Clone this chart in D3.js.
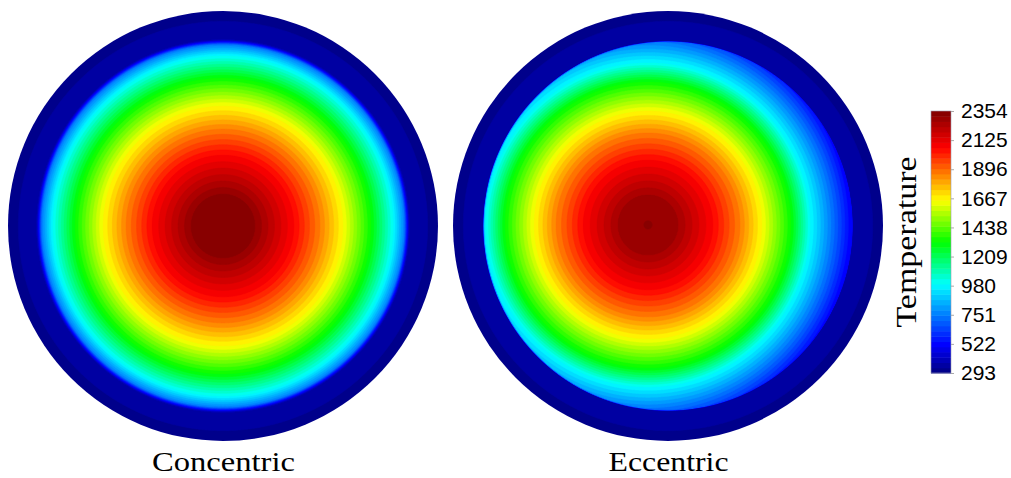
<!DOCTYPE html>
<html>
<head>
<meta charset="utf-8">
<script src="https://cdn.jsdelivr.net/npm/d3@7"></script>
<style>
  body { margin: 0; background: #fff; }
  svg { display: block; }
</style>
</head>
<body>
<svg id="chart" width="1011" height="478"></svg>
<script>
// colour bar ticks (K)
var tempTicks = [293, 522, 751, 980, 1209, 1438, 1667, 1896, 2125, 2354];
var tMin = 293, tMax = 2354, nLevels = 50;

// colour map (fraction of range -> colour)
var cmapStops  = [0, 0.11, 0.34, 0.5, 0.66, 0.86, 1];
var cmapColors = ["#00007f", "#0000ff", "#00ffff", "#00ff00", "#ffff00", "#ff0000", "#7f0000"];

// concentric case: radial profile, r / R_outer -> temperature
var concR = [0, 0.149, 0.330, 0.451, 0.558, 0.688, 0.791, 0.842, 0.856, 0.865, 0.953, 1.0, 1.07];
var concT = [2354, 2313, 2065, 1859, 1653, 1324, 994, 757, 520, 372, 334, 300, 295];

// eccentric case: distance from hot spot / R_outer -> temperature
var eccD = [0, 0.019, 0.140, 0.302, 0.428, 0.530, 0.665, 0.753, 0.847, 0.940, 1.0, 1.07];
var eccT = [2318, 2313, 2272, 2065, 1859, 1653, 1324, 994, 757, 520, 400, 360];
var eccOffset = [-0.093, -0.005];   // hot spot position / R_outer

// eccentric case: thin gap at the cladding wall, r / R_outer -> temperature cap
var gapR = [0.835, 0.86];
var gapT = [2400, 380];

// cladding ring (eccentric case), r / R_outer -> temperature
var cladR = [0.86, 0.953, 1.0, 1.07];
var cladT = [372, 334, 300, 295];

var panelTitles = ["Concentric", "Eccentric"];

var svg = d3.select("#chart");

var frac = d3.scaleLinear().domain([tMin, tMax]);
var cmap = d3.scaleLinear().domain(cmapStops).range(cmapColors).clamp(true);
var color = function(t) { return cmap(frac(t)); };

var levels = d3.range(nLevels).map(function(i) { return tMin + i * (tMax - tMin) / nLevels; });
var step = (tMax - tMin) / nLevels;

var concScale = d3.scaleLinear().domain(concR).range(concT).clamp(true);
var eccScale = d3.scaleLinear().domain(eccD).range(eccT).clamp(true);
var gapScale = d3.scaleLinear().domain(gapR).range(gapT).clamp(true);
var cladScale = d3.scaleLinear().domain(cladR).range(cladT).clamp(true);

var R = 215;
var centers = [[223, 226], [668, 226]];
var n = 2 * R + 4;

// each panel: list of [field, clip radius / R_outer] layers, drawn in order
var layers = [
  [[function(x, y) { return concScale(Math.hypot(x, y)); }, 1]],
  [[function(x, y) { return cladScale(Math.hypot(x, y)); }, 1],
   [function(x, y) {
      return Math.min(eccScale(Math.hypot(x - eccOffset[0], y - eccOffset[1])),
                      gapScale(Math.hypot(x, y)));
    }, cladR[0]]]
];

panelTitles.forEach(function(title, p) {
  var cx = centers[p][0], cy = centers[p][1];

  layers[p].forEach(function(layer, k) {
    var field = layer[0];
    var values = new Float64Array(n * n);
    for (var j = 0; j < n; j++) {
      for (var i = 0; i < n; i++) {
        values[j * n + i] = field((i + 0.5 - n / 2) / R, (j + 0.5 - n / 2) / R);
      }
    }
    var contours = d3.contours().size([n, n]).thresholds(levels)(values);

    var id = "clip" + p + "_" + k;
    svg.append("clipPath").attr("id", id)
      .append("circle").attr("cx", n / 2).attr("cy", n / 2).attr("r", R * layer[1]);

    var g = svg.append("g")
      .attr("transform", "translate(" + (cx - n / 2) + "," + (cy - n / 2) + ")")
      .attr("clip-path", "url(#" + id + ")");

    g.selectAll("path")
      .data(contours)
      .enter()
      .append("path")
      .attr("d", d3.geoPath())
      .attr("fill", function(d) { return color(d.value + step / 2); })
      .attr("stroke", function(d) { return color(d.value + step / 2); })
      .attr("stroke-width", 0.5);
  });

  svg.append("text")
    .attr("x", cx + 0.5)
    .attr("y", 471)
    .attr("text-anchor", "middle")
    .attr("font-family", "Liberation Serif, serif")
    .attr("font-size", 28)
    .attr("textLength", p === 0 ? 143 : 120)
    .attr("lengthAdjust", "spacingAndGlyphs")
    .text(title);
});

// colour bar
var barX = 931, barW = 20;
var yBar = d3.scaleLinear().domain([tMin, tMax]).range([373, 111]);

svg.append("g")
  .selectAll("rect")
  .data(levels)
  .enter()
  .append("rect")
  .attr("x", barX)
  .attr("y", function(d) { return yBar(d + step); })
  .attr("width", barW)
  .attr("height", function(d) { return yBar(d) - yBar(d + step) + 0.5; })
  .attr("fill", function(d) { return color(d + step / 2); });

svg.append("rect")
  .attr("x", barX).attr("y", yBar(tMax))
  .attr("width", barW).attr("height", yBar(tMin) - yBar(tMax))
  .attr("fill", "none").attr("stroke", "#9a9ab0").attr("stroke-width", 0.6);

var axis = svg.append("g")
  .attr("transform", "translate(" + (barX + barW) + ",0)")
  .call(d3.axisRight(yBar).tickValues(tempTicks).tickSize(3).tickPadding(7).tickFormat(d3.format("d")));
axis.select(".domain").remove();
axis.selectAll(".tick line").attr("stroke", "#aaa");
axis.selectAll(".tick text")
  .attr("font-family", "Liberation Sans, Arial, sans-serif")
  .attr("font-size", 21)
  .attr("fill", "#000");

svg.append("text")
  .attr("transform", "translate(916,242) rotate(-90)")
  .attr("text-anchor", "middle")
  .attr("font-family", "Liberation Serif, serif")
  .attr("font-size", 29)
  .attr("textLength", 171)
  .attr("lengthAdjust", "spacingAndGlyphs")
  .text("Temperature");
</script>
</body>
</html>
